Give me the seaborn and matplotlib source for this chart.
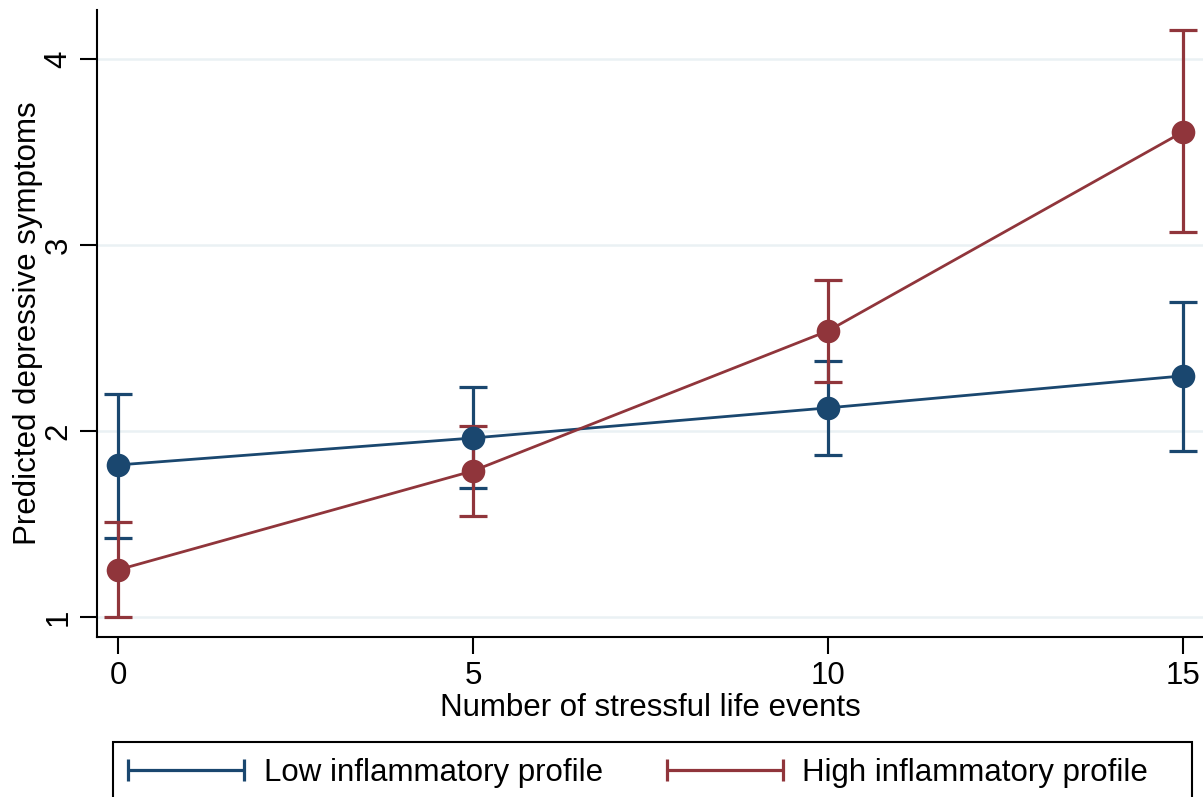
import numpy as np
import pandas as pd
import matplotlib
matplotlib.use("Agg")
import matplotlib.pyplot as plt
import seaborn as sns
from matplotlib.lines import Line2D
from matplotlib.patches import Rectangle

# values
events = [0, 5, 10, 15]
low_mean = [1.817, 1.962, 2.124, 2.296]
low_lo = [1.425, 1.694, 1.871, 1.892]
low_hi = [2.199, 2.237, 2.376, 2.694]
high_mean = [1.253, 1.785, 2.538, 3.608]
high_lo = [0.997, 1.543, 2.263, 3.070]
high_hi = [1.511, 2.027, 2.812, 4.156]
groups = ["Low inflammatory profile", "High inflammatory profile"]
yticks = [1, 2, 3, 4]
xticks = [0, 5, 10, 15]

blue = "#1a476f"
red = "#90353b"
fs = 22.5

sns.set_theme(style="white")
plt.rcParams["font.family"] = ["Liberation Sans", "DejaVu Sans"]
plt.rcParams["text.color"] = "black"
plt.rcParams["axes.labelcolor"] = "black"
plt.rcParams["xtick.color"] = "black"
plt.rcParams["ytick.color"] = "black"

df = pd.DataFrame({
    "events": events * 2,
    "pred": low_mean + high_mean,
    "lo": low_lo + high_lo,
    "hi": low_hi + high_hi,
    "group": [groups[0]] * 4 + [groups[1]] * 4,
})

fig = plt.figure(figsize=(12.03, 7.97), dpi=100)
ax = fig.add_axes([97 / 1203, 1 - 637 / 797, 1 - 97 / 1203, (637 - 10) / 797])

for y in yticks:
    ax.axhline(y, color="#eaf1f4", lw=1.8, zorder=0)

pal = {groups[0]: blue, groups[1]: red}
for g in groups:
    sub = df[df["group"] == g]
    ax.errorbar(sub["events"], sub["pred"],
                yerr=[sub["pred"] - sub["lo"], sub["hi"] - sub["pred"]],
                fmt="none", ecolor=pal[g], elinewidth=2.3, capsize=10,
                capthick=2.3, zorder=2)
sns.lineplot(data=df, x="events", y="pred", hue="group", palette=pal,
             marker="o", markersize=17, markeredgewidth=0, linewidth=2.0,
             legend=False, ax=ax, zorder=3)

ax.set_xlim(-0.296, 15.28)
ax.set_ylim(0.892, 4.263)
ax.set_xticks(xticks)
ax.set_yticks(yticks)
ax.set_xticklabels([str(v) for v in xticks], fontsize=fs)
ax.set_yticklabels([str(v) for v in yticks], fontsize=fs, rotation=90, va="center")
ax.tick_params(axis="both", direction="out", length=12, width=1.5,
               bottom=True, left=True, pad=5)
ax.set_xlabel("Number of stressful life events", fontsize=fs, labelpad=2)
ax.set_ylabel("Predicted depressive symptoms", fontsize=fs, labelpad=0)

for side in ["top", "right"]:
    ax.spines[side].set_visible(False)
for side in ["left", "bottom"]:
    ax.spines[side].set_color("black")
    ax.spines[side].set_linewidth(1.5)

# legend box in the style of Stata, running past the bottom edge
fig.patches.append(Rectangle((113 / 1203, -0.05), (1192 - 113) / 1203, 0.05 + (797 - 742) / 797,
                             transform=fig.transFigure, fill=False,
                             edgecolor="black", lw=1.5))
handles = [Line2D([], [], color=pal[g], lw=2.3, marker="|", markersize=16,
                  markeredgewidth=2.3) for g in groups]
fig.legend(handles, groups, loc="center left", bbox_to_anchor=(119 / 1203, 1 - 773 / 797),
           frameon=False, ncol=2, numpoints=2, fontsize=fs, handlelength=4.3,
           handletextpad=0.33, columnspacing=1.75, borderaxespad=0, borderpad=0)

fig.savefig("out.png", dpi=100)
